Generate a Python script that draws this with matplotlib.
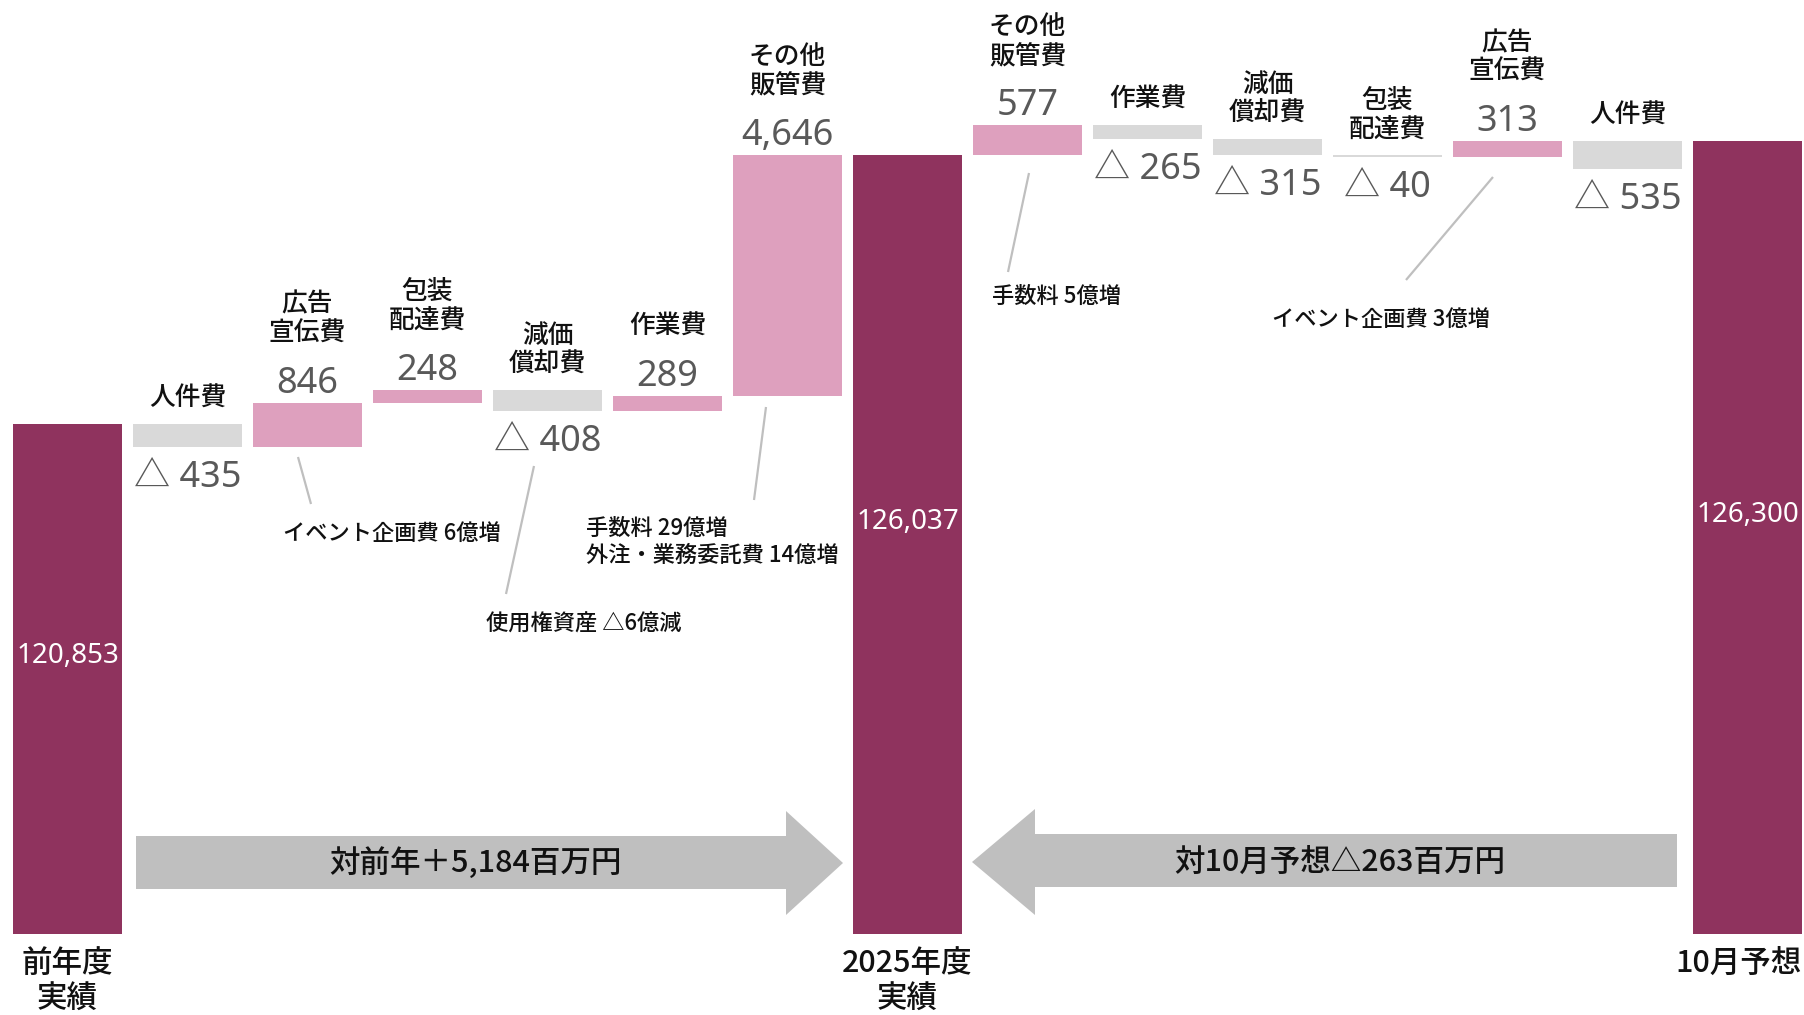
import matplotlib
matplotlib.use('Agg')
import matplotlib.pyplot as plt
from matplotlib.patches import Polygon

# totals (百万円)
TOTAL_NAMES = ['前年度\n実績', '2025年度\n実績', '10月予想']
TOTALS = [120853, 126037, 126300]

# 前年度 -> 2025年度
LEFT_NAMES = ['人件費', '広告\n宣伝費', '包装\n配達費', '減価\n償却費', '作業費', 'その他\n販管費']
LEFT_DELTAS = [-435, 846, 248, -408, 289, 4646]

# 2025年度 -> 10月予想
RIGHT_NAMES = ['その他\n販管費', '作業費', '減価\n償却費', '包装\n配達費', '広告\n宣伝費', '人件費']
RIGHT_DELTAS = [577, -265, -315, -40, 313, -535]

NOTES = [
    'イベント企画費 6億増',
    '使用権資産 △6億減',
    '手数料 29億増\n外注・業務委託費 14億増',
    '手数料 5億増',
    'イベント企画費 3億増',
]
ARROW_TEXTS = ['対前年＋5,184百万円', '対10月予想△263百万円']

DARK = '#8F335E'
PINK = '#DEA0BE'
GREY = '#D9D9D9'
LINE = '#BFBFBF'
VALUE = '#595959'
INK = '#111111'

JP = ['Noto Sans CJK JP', 'DejaVu Sans']
NUM = ['Noto Sans', 'Noto Sans CJK JP', 'DejaVu Sans']
WEIGHT = 'medium'

W, H = 1804, 1015
BASE = 111025        # cut-off floor of the value axis
PX_PER_UNIT = 0.05189
FLOOR_PX = 934       # pixel row of the floor
BAR_W = 0.908


def pt(px):
    return px * 0.72


fig = plt.figure(figsize=(W / 100, H / 100), dpi=100)
ax = fig.add_axes([0, 0, 1, 1])
ax.set_xlim((0 - 67.5) / 120, (W - 67.5) / 120)
ax.set_ylim(BASE - (H - FLOOR_PX) / PX_PER_UNIT, BASE + FLOOR_PX / PX_PER_UNIT)
ax.axis('off')

# total bars
for i, (x, v, name) in enumerate(zip([0, 7, 14], TOTALS, TOTAL_NAMES)):
    ax.bar(x, v - BASE, bottom=BASE, width=BAR_W, color=DARK, linewidth=0)
    ax.annotate('{:,}'.format(v), (x, (v + BASE) / 2), xytext=(0, pt(23)),
                textcoords='offset points', ha='center', va='center',
                fontsize=20, color='white', family=NUM)
    last = i == len(TOTALS) - 1
    # the last label would run off the right edge, keep it inside
    ax.annotate(name, (x + BAR_W / 2 if last else x, BASE),
                xytext=(0, -pt(14)), textcoords='offset points',
                ha='right' if last else 'center', va='top', fontsize=22,
                family=JP, fontweight=WEIGHT, linespacing=1.2, color=INK)


def waterfall(start, deltas, names, x0):
    level = start
    for i, (d, name) in enumerate(zip(deltas, names)):
        x = x0 + i
        lo, hi = sorted([level, level + d])
        ax.bar(x, hi - lo, bottom=lo, width=BAR_W,
               color=PINK if d > 0 else GREY, linewidth=0)
        if d > 0:
            ax.annotate('{:,}'.format(d), (x, hi), xytext=(0, pt(19)),
                        textcoords='offset points', ha='center', va='center',
                        fontsize=26, color=VALUE, family=NUM)
            ax.annotate(name, (x, hi), xytext=(0, pt(56)), textcoords='offset points',
                        ha='center', va='bottom', fontsize=18.5, family=JP,
                        fontweight=WEIGHT, linespacing=1.1, color=INK)
        else:
            ax.annotate(name, (x, hi), xytext=(0, pt(12)), textcoords='offset points',
                        ha='center', va='bottom', fontsize=18.5, family=JP,
                        fontweight=WEIGHT, linespacing=1.1, color=INK)
            ax.annotate('△ {:,}'.format(-d), (x, lo), xytext=(0, -pt(31)),
                        textcoords='offset points', ha='center', va='center',
                        fontsize=26, color=VALUE, family=NUM)
        level += d


waterfall(TOTALS[0], LEFT_DELTAS, LEFT_NAMES, 1)
waterfall(TOTALS[1], RIGHT_DELTAS, RIGHT_NAMES, 8)

# overlay in pixel coordinates for arrows and call-outs
ov = fig.add_axes([0, 0, 1, 1])
ov.set_xlim(0, W)
ov.set_ylim(H, 0)
ov.axis('off')

ov.add_patch(Polygon([(136, 836), (786, 836), (786, 811), (843, 863),
                      (786, 915), (786, 889), (136, 889)],
                     closed=True, color=LINE, linewidth=0))
ov.add_patch(Polygon([(972, 862), (1035, 809), (1035, 834), (1677, 834),
                      (1677, 887), (1035, 887), (1035, 915)],
                     closed=True, color=LINE, linewidth=0))
ov.text(475, 863, ARROW_TEXTS[0], ha='center', va='center', fontsize=22,
        family=JP, fontweight=WEIGHT, color=INK)
ov.text(1340, 862, ARROW_TEXTS[1], ha='center', va='center', fontsize=22,
        family=JP, fontweight=WEIGHT, color=INK)

leaders = [
    ((298, 457), (311, 504)),
    ((534, 466), (506, 594)),
    ((766, 407), (754, 500)),
    ((1029, 173), (1008, 272)),
    ((1493, 177), (1406, 280)),
]
for (x1, y1), (x2, y2) in leaders:
    ov.plot([x1, x2], [y1, y2], color=LINE, linewidth=1.6, solid_capstyle='butt')

note_pos = [(392, 533, 'center'), (584, 624, 'center'), (586, 542, 'left'),
            (992, 296, 'left'), (1381, 319, 'center')]
for text, (x, y, ha) in zip(NOTES, note_pos):
    ov.text(x, y, text, ha=ha, va='center', fontsize=16, family=JP,
            fontweight=WEIGHT, linespacing=1.2, color=INK)

fig.savefig('out.png', dpi=100)
